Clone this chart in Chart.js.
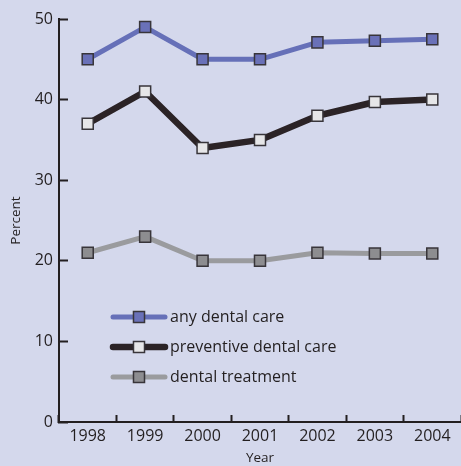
<!DOCTYPE html>
<html><head><meta charset="utf-8">
<script src="https://cdn.jsdelivr.net/npm/chart.js@4/dist/chart.umd.min.js"></script>
<style>html,body{margin:0;padding:0;background:#d4d8ec;} #wrap{width:461px;height:466px;}</style>
</head><body><div id="wrap"><canvas id="c" width="461" height="466"></canvas></div>
<script>
const years = ['1998', '1999', '2000', '2001', '2002', '2003', '2004'];
const anyDentalCare = [45, 49, 45, 45, 47.1, 47.3, 47.5];
const preventiveDentalCare = [37, 41, 34, 35, 38, 39.7, 40];
const dentalTreatment = [21, 23, 20, 20, 21, 20.9, 20.9];
const yTickValues = [0, 10, 20, 30, 40, 50];

const axisColor = '#231f20';
const fontFamily = '"Open Sans", "Noto Sans", sans-serif';

const insideLegend = {
  id: 'insideLegend',
  afterDatasetsDraw(chart) {
    const {ctx, chartArea} = chart;
    const x0 = chartArea.left + 54, x1 = chartArea.left + 106;
    const xm = (x0 + x1) / 2, tx = x1 + 5;
    chart.data.datasets.forEach((ds, i) => {
      const y = chartArea.bottom - 105 + i * 30;
      ctx.save();
      ctx.lineCap = 'round';
      ctx.strokeStyle = ds.borderColor;
      ctx.lineWidth = ds.borderWidth;
      ctx.beginPath(); ctx.moveTo(x0, y); ctx.lineTo(x1, y); ctx.stroke();
      const s = ds.pointRadius * Math.SQRT1_2;
      ctx.fillStyle = ds.pointBackgroundColor;
      ctx.strokeStyle = ds.pointBorderColor;
      ctx.lineWidth = ds.pointBorderWidth;
      ctx.beginPath(); ctx.rect(xm - s, y - s, 2 * s, 2 * s); ctx.fill(); ctx.stroke();
      ctx.fillStyle = axisColor;
      ctx.font = '16px ' + fontFamily;
      ctx.textBaseline = 'middle';
      ctx.textAlign = 'left';
      ctx.fillText(ds.label, tx, y);
      ctx.restore();
    });
  }
};

const common = {
  tension: 0, fill: false, pointStyle: 'rect', pointRadius: 7.8, pointHoverRadius: 7.8,
  pointBorderWidth: 1.5, pointBorderColor: '#38353a', borderJoinStyle: 'round'
};

new Chart(document.getElementById('c'), {
  type: 'line',
  data: {
    labels: years,
    datasets: [
      Object.assign({}, common, {label: 'any dental care', data: anyDentalCare, borderColor: '#6670b8', borderWidth: 5, pointBackgroundColor: '#6a71b8'}),
      Object.assign({}, common, {label: 'preventive dental care', data: preventiveDentalCare, borderColor: '#2b2326', borderWidth: 6.5, pointBackgroundColor: '#e6e6e8'}),
      Object.assign({}, common, {label: 'dental treatment', data: dentalTreatment, borderColor: '#9a9b9e', borderWidth: 5, pointBackgroundColor: '#8d8d90'})
    ]
  },
  options: {
    responsive: false, animation: false, devicePixelRatio: 1,
    layout: {autoPadding: false, padding: {top: 19, right: 0, left: 0, bottom: 0}},
    plugins: {legend: {display: false}, tooltip: {enabled: false}},
    scales: {
      x: {
        type: 'category', offset: true,
        grid: {offset: true, drawOnChartArea: false, drawTicks: true, tickLength: -7, tickWidth: 2, tickColor: axisColor, color: axisColor},
        border: {display: true, color: axisColor, width: 2},
        ticks: {color: axisColor, font: {family: fontFamily, size: 16}, padding: 12, maxRotation: 0},
        title: {display: true, text: 'Year', color: axisColor, font: {family: fontFamily, size: 13.5}, padding: {top: 0, bottom: 0}},
        afterFit: s => { s.height = 44; s.paddingLeft = 0; s.paddingRight = 0; }
      },
      y: {
        min: 0, max: 50,
        afterBuildTicks: s => { s.ticks = yTickValues.map(v => ({value: v})); },
        grid: {drawOnChartArea: false, drawTicks: true, tickLength: -9, tickWidth: 2, tickColor: axisColor, color: axisColor},
        border: {display: true, color: axisColor, width: 2},
        ticks: {color: axisColor, font: {family: fontFamily, size: 16}, padding: 15},
        title: {display: true, text: 'Percent', color: axisColor, font: {family: fontFamily, size: 13.5}, padding: {top: 8, bottom: 0}},
        afterFit: s => { s.width = 59; s.paddingTop = 0; s.paddingBottom = 0; }
      }
    }
  },
  plugins: [insideLegend]
});
</script>
</body></html>
